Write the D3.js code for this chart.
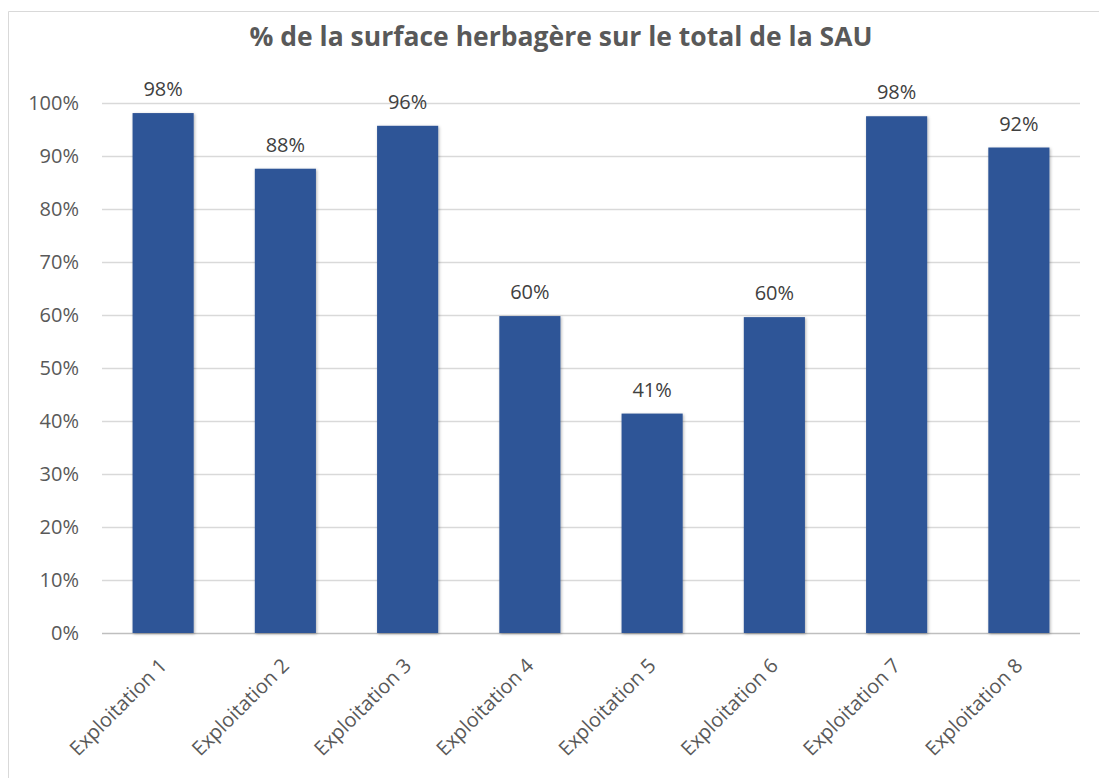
<!DOCTYPE html>
<html>
<head>
<meta charset="utf-8">
<script src="https://cdn.jsdelivr.net/npm/d3@7"></script>
<style>
  body { margin: 0; background: #fff; }
  svg text { font-family: "Open Sans", sans-serif; }
</style>
</head>
<body>
<svg width="1099" height="778"></svg>
<script>
const categories = ['Exploitation 1', 'Exploitation 2', 'Exploitation 3', 'Exploitation 4',
  'Exploitation 5', 'Exploitation 6', 'Exploitation 7', 'Exploitation 8'];
const values = [98.1, 87.6, 95.7, 59.8, 41.4, 59.6, 97.5, 91.6];
const yTicks = [0, 10, 20, 30, 40, 50, 60, 70, 80, 90, 100];
const title = '% de la surface herbagère sur le total de la SAU';

const svg = d3.select('svg');
const width = +svg.attr('width');
const height = +svg.attr('height');
const margin = { top: 103, right: 19, bottom: 145, left: 102 };
const innerWidth = width - margin.left - margin.right;
const innerHeight = height - margin.top - margin.bottom;

// chart frame: only the left and top edges are inside the picture
svg.append('path')
  .attr('d', `M8.5,${height} V11.5 H${width}`)
  .attr('fill', 'none').attr('stroke', '#d9d9d9');

svg.append('text')
  .attr('x', 561).attr('y', 46)
  .attr('text-anchor', 'middle')
  .attr('font-size', 26.5).attr('font-weight', 'bold')
  .attr('fill', '#595959')
  .text(title);

const defs = svg.append('defs');
const shadow = defs.append('filter').attr('id', 'shadow')
  .attr('x', '-20%').attr('y', '-5%').attr('width', '140%').attr('height', '110%');
shadow.append('feDropShadow')
  .attr('dx', 1).attr('dy', 1).attr('stdDeviation', 1.5)
  .attr('flood-color', '#000').attr('flood-opacity', 0.3);

const g = svg.append('g').attr('transform', `translate(${margin.left},${margin.top})`);

const x = d3.scaleBand().domain(categories).range([0, innerWidth]).paddingInner(0.5).paddingOuter(0.25);
const y = d3.scaleLinear().domain([0, 100]).range([innerHeight, 0]);

const yAxis = d3.axisLeft(y).tickValues(yTicks).tickSize(-innerWidth).tickFormat(d => d + '%');
const ya = g.append('g').call(yAxis);
ya.select('.domain').remove();
ya.selectAll('.tick line').attr('stroke', (d) => d === 0 ? '#bfbfbf' : '#d9d9d9').attr('stroke-width', 1.3);
ya.selectAll('.tick text')
  .attr('x', -23).attr('font-size', 20).attr('fill', '#595959')
  .style('font-family', '"Open Sans", sans-serif');

g.selectAll('rect.bar')
  .data(values)
  .enter()
  .append('rect')
  .attr('class', 'bar')
  .attr('x', (d, i) => x(categories[i]))
  .attr('y', d => y(d))
  .attr('width', x.bandwidth())
  .attr('height', d => y(0) - y(d))
  .attr('fill', '#2f5597')
  .attr('filter', 'url(#shadow)');

g.selectAll('text.val')
  .data(values)
  .enter()
  .append('text')
  .attr('class', 'val')
  .attr('x', (d, i) => x(categories[i]) + x.bandwidth() / 2)
  .attr('y', d => y(d) - 17)
  .attr('text-anchor', 'middle')
  .attr('font-size', 20).attr('fill', '#404040')
  .text(d => Math.round(d) + '%');

const xa = g.append('g').attr('transform', `translate(0,${innerHeight})`)
  .call(d3.axisBottom(x).tickSize(0));
xa.select('.domain').remove();
xa.selectAll('.tick text')
  .attr('font-size', 20).attr('fill', '#595959')
  .attr('text-anchor', 'end')
  .attr('dy', 0).attr('y', 0)
  .attr('transform', 'translate(5,34) rotate(-45)')
  .style('font-family', '"Open Sans", sans-serif');
</script>
</body>
</html>
